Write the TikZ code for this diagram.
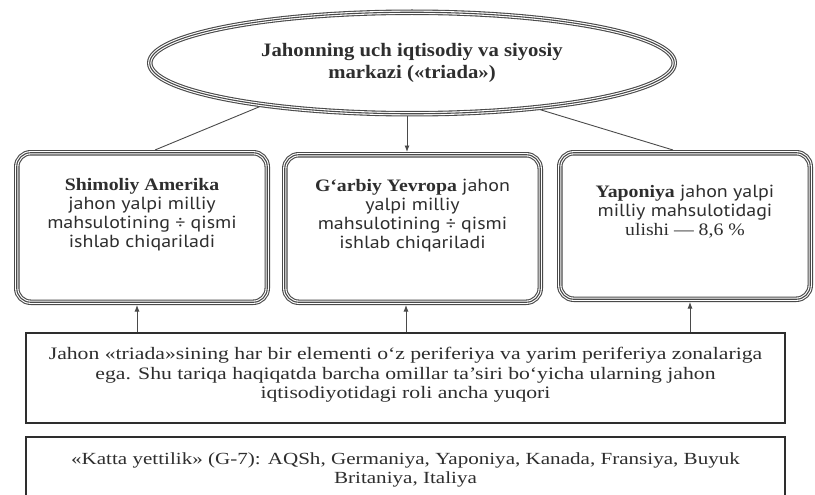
\documentclass[tikz,border=0pt]{standalone}
\usepackage{fontspec}
\setmainfont{Liberation Serif}
\newfontfamily\boxsans[FakeStretch=1.14]{PT Sans}
\newfontfamily\boxbold[FakeStretch=1.13]{Liberation Serif Bold}
\newfontfamily\ellbold[FakeStretch=1.09]{Liberation Serif Bold}
\newfontfamily\boxserif[FakeStretch=1.13]{Liberation Serif}
\newfontfamily\wideserif[FakeStretch=1.24]{Liberation Serif}
\usetikzlibrary{shapes.geometric,arrows.meta}
\definecolor{ink}{HTML}{2E2E2E}
\definecolor{frame}{HTML}{4A4A4A}
\tikzset{
  triple/.style={draw=frame, line width=5.5pt,
    postaction={draw=white, line width=3.3pt},
    postaction={draw=frame, line width=1.1pt}},
  bigbox/.style={triple, rounded corners=14pt, inner sep=0pt},
  plainbox/.style={draw=ink, line width=1.1pt, inner sep=0pt},
  conn/.style={draw=frame, line width=0.9pt},
  arr/.style={conn, -{Latex[length=6.5pt,width=5pt]}},
  txt/.style={text=ink, align=center, inner sep=0pt},
  boxtxt/.style={txt, font=\boxsans\fontsize{17.5}{19}\selectfont},
}
\begin{document}
\begin{tikzpicture}[x=1pt,y=-1pt]
\useasboundingbox (0,0) rectangle (815,495);
\clip (0,0) rectangle (815,495);
\fill[white] (0,0) rectangle (815,495);

% central ellipse
\node[ellipse, triple, minimum width=524.5pt, minimum height=101.5pt, inner sep=0pt,
      txt, font=\ellbold\fontsize{19}{22}\selectfont] (ell) at (412,63)
  {Jahonning uch iqtisodiy va siyosiy\\markazi («triada»)};

% three rounded boxes
\node[bigbox, minimum width=250.5pt, minimum height=149.5pt] (b1) at (142,227.5) {};
\node[bigbox, minimum width=255.5pt, minimum height=147.5pt] (b2) at (412.5,228.5) {};
\node[bigbox, minimum width=250.5pt, minimum height=146.5pt] (b3) at (685,226) {};

\node[boxtxt] (t1) at (142,215)
  {{\boxbold Shimoliy Amerika}\\jahon yalpi milliy\\mahsulotining ÷ qismi\\ishlab chiqariladi};
\node[boxtxt] (t2) at (412.5,216)
  {{\boxbold G‘arbiy Yevropa} jahon\\yalpi milliy\\mahsulotining ÷ qismi\\ishlab chiqariladi};
\node[boxtxt] (t3) at (685,212)
  {{\boxbold Yaponiya} jahon yalpi\\milliy mahsulotidagi\\{\boxserif ulishi — 8,6 \%}};

% lower boxes
\node[plainbox, minimum width=759pt, minimum height=90pt] (low) at (405.5,378) {};
\node[txt, font=\wideserif\fontsize{17.5}{19.5}\selectfont] (lowt) at (405.5,375)
  {Jahon «triada»sining har bir elementi o‘z periferiya va yarim periferiya zonalariga\\
   ega. Shu tariqa haqiqatda barcha omillar ta’siri bo‘yicha ularning jahon\\
   iqtisodiyotidagi roli ancha yuqori};
\node[plainbox, minimum width=759pt, minimum height=90pt] (g7) at (405.5,482) {};
\node[txt, font=\wideserif\fontsize{17}{19}\selectfont] (g7t) at (405.5,470)
  {«Katta yettilik» (G-7): AQSh, Germaniya, Yaponiya, Kanada, Fransiya, Buyuk\\Britaniya, Italiya};

% connectors from ellipse
\draw[conn] (ell.196) -- ([xshift=13pt]b1.north);
\draw[arr] ([xshift=-5pt]ell.south) -- ([xshift=-5.5pt]b2.north);
\draw[conn] (ell.-20) -- ([xshift=-12pt]b3.north);

% arrows up from lower box
\draw[arr] ([xshift=-5pt]b1.south |- low.north) -- ([xshift=-5pt]b1.south);
\draw[arr] ([xshift=-6.5pt]b2.south |- low.north) -- ([xshift=-6.5pt]b2.south);
\draw[arr] ([xshift=5pt]b3.south |- low.north) -- ([xshift=5pt]b3.south);
\end{tikzpicture}
\end{document}
